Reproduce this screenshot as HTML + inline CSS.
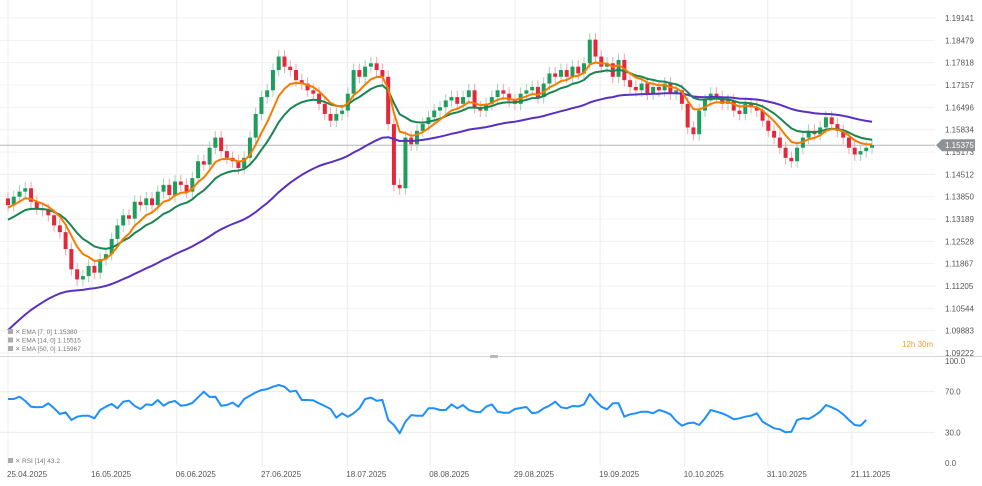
<!DOCTYPE html>
<html><head><meta charset="utf-8">
<style>
body{margin:0;background:#fff;width:982px;height:486px;overflow:hidden;font-family:"Liberation Sans",sans-serif}
svg{display:block}
text{font-family:"Liberation Sans",sans-serif}
</style></head>
<body>
<svg id="chart" width="982" height="486" viewBox="0 0 982 486">
<g id="grid"></g>
<g id="candles"></g>
<g id="emas"></g>
<g id="rsi"></g>
<g id="axes"></g>
</svg>
<script>
const dateLabels=["25.04.2025","16.05.2025","06.06.2025","27.06.2025","18.07.2025","08.08.2025","29.08.2025","19.09.2025","10.10.2025","31.10.2025","21.11.2025"];
const dateIdx=[0,14.6,29.3,44.1,58.9,73.3,88,102.8,117.5,131.9,146.5];
const priceTicks=[1.19141,1.18479,1.17818,1.17157,1.16496,1.15834,1.15173,1.14512,1.13850,1.13189,1.12528,1.11867,1.11205,1.10544,1.09883,1.09222];
const rsiTicks=[100,70,30,0];
const emaPeriods=[7,14,50];
const emaSeeds=[1.1350,1.1310,1.0975];
const closes=[1.1360,1.1385,1.1400,1.1410,1.1370,1.1350,1.1345,
1.1330,1.1300,1.1280,1.1230,1.1170,1.1140,1.1150,
1.1180,1.1160,1.1200,1.1215,
1.1260,1.1300,1.1330,1.1320,1.1370,1.1360,
1.1380,1.1360,1.1400,1.1420,1.1390,1.1430,
1.1420,1.1400,1.1440,1.1490,1.1480,
1.1530,1.1560,1.1520,1.1500,1.1490,1.1470,
1.1500,1.1560,1.1630,1.1680,1.1700,1.1760,
1.1800,1.1770,1.1760,1.1730,1.1720,1.1700,
1.1690,1.1660,1.1630,1.1610,1.1630,1.1640,
1.1690,1.1760,1.1740,1.1770,1.1780,1.1760,
1.1740,1.1600,1.1420,
1.1410,1.1560,1.1540,1.1580,
1.1600,1.1620,1.1640,1.1650,1.1670,1.1680,
1.1660,1.1680,1.1700,1.1650,1.1640,1.1660,
1.1680,1.1700,1.1690,1.1670,1.1660,1.1690,
1.1700,1.1710,1.1680,1.1720,1.1750,1.1740,
1.1760,1.1740,1.1770,1.1750,1.1780,1.1850,
1.1800,1.1770,1.1780,1.1740,
1.1790,1.1730,1.1710,1.1700,1.1720,1.1690,
1.1710,1.1700,1.1720,1.1690,1.1700,1.1660,
1.1590,1.1570,1.1640,1.1670,1.1690,1.1680,
1.1660,1.1670,1.1640,1.1630,1.1660,1.1650,
1.1640,1.1610,1.1580,1.1560,1.1530,1.1500,
1.1490,1.1530,1.1560,1.1580,1.1570,1.1590,
1.1620,1.1600,1.1580,1.1560,1.1530,
1.1510,1.1520,1.1530,1.15375];
const rsiValues=[62.7,62.7,65,60.8,55.2,54.6,54.9,58.5,53.6,48,49.6,42.2,45.4,46.4,46.4,43.8,52,55.2,57.9,53.6,
60.1,61.1,55.9,52.9,57.5,56.9,61.8,56.2,59.5,60.8,56.2,56.9,58.8,64.4,69.9,64.7,65,56.2,56.9,59.2,
55.2,62.7,66,69.2,71.5,72.5,74.8,76.5,74.8,69.9,70.9,61.8,61.8,61.4,58.5,55.9,52.9,44.4,48.7,45.4,
48.7,53.6,62.7,64.1,61.1,61.8,42.2,37.3,29.1,40.5,47,46.4,46.4,53.6,53.6,52,52,57.5,53.6,56.9,
52,50.3,49.7,55.2,57.5,50.3,49.3,49.3,52.9,53.9,54.9,48.7,49.7,53.6,56.2,60.1,54.6,53.6,55.9,55.5,
57.5,67.6,60.8,55.2,52.6,58.5,58.5,45.4,47.7,48.7,50.3,50.3,48.7,52,50.3,47.7,41.2,36.6,38.9,39.6,
37.3,43.8,52,50.3,48.7,46.1,42.8,43.8,45.4,46.4,48.7,40.5,37.3,34,33,30.1,30.7,42.2,43.8,43.1,
46.4,50.3,56.9,54.6,52,47.7,42.2,37.3,36.6,42.2];
const wick=0.0019;
const lastPrice=1.15375;

const NS="http://www.w3.org/2000/svg";
function mk(parent,tag,attrs){const e=document.createElementNS(NS,tag);for(const k in attrs)e.setAttribute(k,attrs[k]);parent.appendChild(e);return e;}
const x0=8,step=5.76;
const X=i=>x0+i*step;
const Y=p=>18+(1.19141-p)/(1.19141-1.09222)*335;
const RY=v=>463-v*1.02;

const grid=document.getElementById('grid');
priceTicks.forEach(p=>{const l=mk(grid,'line',{x1:0,x2:935,y1:Y(p),y2:Y(p),stroke:'#f0f0f0','stroke-width':1});

});
dateIdx.forEach(i=>{const l=mk(grid,'line',{x1:X(i),x2:X(i),y1:0,y2:466,stroke:'#ececec','stroke-width':1});

});
[70,30].forEach(v=>{const l=mk(grid,'line',{x1:0,x2:935,y1:RY(v),y2:RY(v),stroke:'#ececec'});

});
const sep=mk(grid,'line',{x1:0,x2:982,y1:356.5,y2:356.5,stroke:'#d8d8d8'});


mk(grid,'rect',{x:490,y:355,width:8,height:3,fill:'#bbb'});
const pl=mk(grid,'line',{x1:0,x2:935,y1:Y(lastPrice),y2:Y(lastPrice),stroke:'#b5b5b5'});



const cg=document.getElementById('candles');
closes.forEach((c,i)=>{
  const o=i?closes[i-1]:c+0.002;
  const up=c>=o;
  const hi=Math.max(o,c)+wick, lo=Math.min(o,c)-wick;
  const g=mk(cg,'g',{});
  
  
  mk(g,'line',{x1:X(i),x2:X(i),y1:Y(hi),y2:Y(lo),stroke:up?'#9fd3b5':'#f0a5ad','stroke-width':1});
  const top=Y(Math.max(o,c)),h=Math.max(1.5,Y(Math.min(o,c))-top);
  mk(g,'rect',{x:X(i)-2,y:top,width:4,height:h,fill:up?'#1f9d5c':'#e3283c'});
});

const eg=document.getElementById('emas');
const emaColors=['#f57c00','#1a8553','#5a2fc2'];
const emaNames=['ema-7-line','ema-14-line','ema-50-line'];
[2,1,0].forEach(k=>{
  const a=2/(emaPeriods[k]+1);let e=emaSeeds[k];const pts=[];
  closes.forEach((c,i)=>{e=a*c+(1-a)*e;pts.push(X(i).toFixed(1)+','+Y(e).toFixed(1));});
  const p=mk(eg,'polyline',{points:pts.join(' '),fill:'none',stroke:emaColors[k],'stroke-width':2,'stroke-linejoin':'round'});
  
  
});

const rg=document.getElementById('rsi');
const rpts=rsiValues.map((r,i)=>X(i).toFixed(1)+','+RY(r).toFixed(1));
const rl=mk(rg,'polyline',{points:rpts.join(' '),fill:'none',stroke:'#1e8fff','stroke-width':2,'stroke-linejoin':'round'});



const ax=document.getElementById('axes');
priceTicks.forEach(p=>{const t=mk(ax,'text',{x:945,y:Y(p)+3,'font-size':8,fill:'#555'});t.textContent=p.toFixed(5);

});
rsiTicks.forEach(v=>{const t=mk(ax,'text',{x:945,y:RY(v)+3,'font-size':8,fill:'#555'});t.textContent=v.toFixed(1);

});
dateLabels.forEach((d,j)=>{const t=mk(ax,'text',{x:X(dateIdx[j])-1,y:477,'font-size':8,fill:'#555'});t.textContent=d;

});
const tag=mk(ax,'g',{});


const ty=Y(lastPrice);
mk(tag,'path',{d:`M936 ${ty} L942 ${ty-6} L975 ${ty-6} L975 ${ty+6} L942 ${ty+6} Z`,fill:'#8d9296'});
const tt=mk(tag,'text',{x:945,y:ty+3,'font-size':8,fill:'#fff'});tt.textContent=lastPrice.toFixed(5);
const tm=mk(ax,'text',{x:902,y:347,'font-size':8,fill:'#f59a2c'});tm.textContent='12h 30m';



const legends=['EMA [7, 0]  1.15380','EMA [14, 0]  1.15515','EMA [50, 0]  1.15967'];
legends.forEach((s,j)=>{const g=mk(ax,'g',{});


const y=334+j*8.5;
mk(g,'rect',{x:8,y:y-5,width:5,height:5,fill:'#aaa'});
const x=mk(g,'text',{x:15,y:y,'font-size':6.5,fill:'#888'});x.textContent='✕';
const t=mk(g,'text',{x:22,y:y,'font-size':6.5,fill:'#777'});t.textContent=s;});
const rlg=mk(ax,'g',{});


mk(rlg,'rect',{x:8,y:458,width:5,height:5,fill:'#aaa'});
const rx=mk(rlg,'text',{x:15,y:463,'font-size':6.5,fill:'#888'});rx.textContent='✕';
const rt=mk(rlg,'text',{x:22,y:463,'font-size':6.5,fill:'#777'});rt.textContent='RSI [14]  43.2';
</script>
</body></html>
